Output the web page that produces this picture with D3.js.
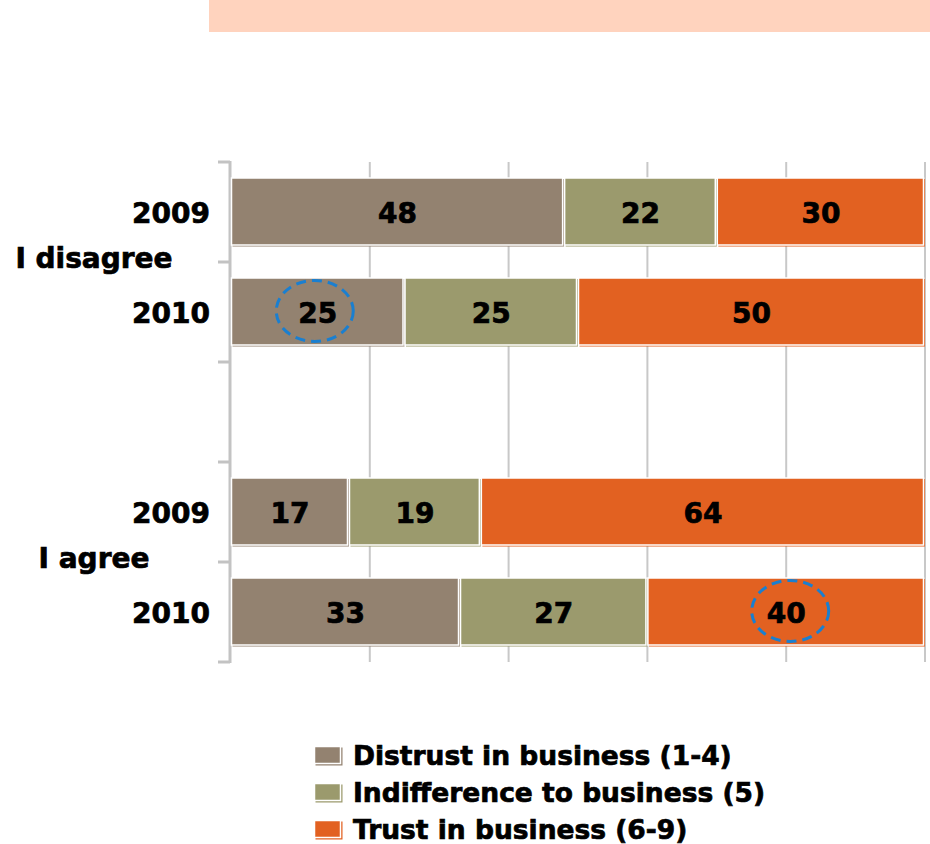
<!DOCTYPE html>
<html>
<head>
<meta charset="utf-8">
<script src="https://cdn.jsdelivr.net/npm/d3@7"></script>
<style>
  html, body { margin: 0; padding: 0; background: #fff; }
  svg { display: block; }
  text { font-family: "DejaVu Sans", Verdana, sans-serif; font-weight: bold; fill: #000; stroke: #000; stroke-width: 0.7px; }
</style>
</head>
<body>
<svg id="chart" width="930" height="844"></svg>
<script>
// Survey answers split into three trust levels (percent of respondents)
const groups = ["I disagree", "I agree"];
const years = ["2009", "2010"];
const series = ["Distrust in business (1-4)", "Indifference to business (5)", "Trust in business (6-9)"];
const colors = ["#938270", "#9b9a6d", "#e26121"];

const disagreeValues = [[48, 22, 30], [25, 25, 50]];
const agreeValues = [[17, 19, 64], [33, 27, 40]];

// Circled values: [group, year, series]
const highlights = [["I disagree", "2010", 0], ["I agree", "2010", 2]];

const xTicks = [0, 20, 40, 60, 80, 100];

const rows = [];
groups.forEach((g, gi) => {
  const vals = gi === 0 ? disagreeValues : agreeValues;
  years.forEach((y, yi) => rows.push({ key: g + "|" + y, group: g, year: y, values: vals[yi] }));
  if (gi < groups.length - 1) rows.push({ key: "gap" + gi, gap: true });
});

const svg = d3.select("#chart");

// Banner strip across the top
svg.append("rect").attr("x", 209).attr("y", 0).attr("width", 721).attr("height", 32).attr("fill", "#ffd3be");

const x = d3.scaleLinear().domain([0, 100]).range([231, 925]);
const y = d3.scaleBand().domain(rows.map(r => r.key)).range([162, 662]).paddingInner(0.31).paddingOuter(0.155);

// Vertical gridlines
svg.append("g").selectAll("line").data(xTicks.slice(1)).join("line")
  .attr("x1", d => x(d)).attr("x2", d => x(d))
  .attr("y1", 162).attr("y2", 662)
  .attr("stroke", "#c8c8c8").attr("stroke-width", 2);

// Category axis with ticks at slot boundaries
const boundaries = d3.range(rows.length + 1).map(i => 162 + i * y.step());
const axis = svg.append("g");
axis.append("line").attr("x1", 230).attr("x2", 230).attr("y1", 161).attr("y2", 663)
  .attr("stroke", "#c3c3c3").attr("stroke-width", 3);
axis.selectAll("line.tick").data(boundaries).join("line").attr("class", "tick")
  .attr("x1", 218).attr("x2", 230).attr("y1", d => d).attr("y2", d => d)
  .attr("stroke", "#c3c3c3").attr("stroke-width", 3);

// Stacked segments
const barRows = rows.filter(r => !r.gap);
const segs = [];
barRows.forEach(r => {
  let acc = 0;
  r.values.forEach((v, si) => {
    segs.push({ row: r, si, v, x0: acc, x1: acc + v });
    acc += v;
  });
});

const bars = svg.append("g");
// offset shadow beneath each segment
bars.selectAll("rect.shadow").data(segs).join("rect").attr("class", "shadow")
  .attr("x", d => x(d.x0) + 1.5).attr("y", d => y(d.row.key) + 1.5)
  .attr("width", d => x(d.x1) - x(d.x0) - 1.5).attr("height", y.bandwidth() - 1.5)
  .attr("fill", d => colors[d.si]);
bars.selectAll("rect.face").data(segs).join("rect").attr("class", "face")
  .attr("x", d => x(d.x0) + 0.5).attr("y", d => y(d.row.key) + 0.5)
  .attr("width", d => x(d.x1) - x(d.x0) - 2).attr("height", y.bandwidth() - 2)
  .attr("fill", d => colors[d.si]).attr("stroke", "#fff").attr("stroke-width", 1.5);

// Value labels
svg.append("g").selectAll("text").data(segs).join("text")
  .attr("x", d => (x(d.x0) + x(d.x1)) / 2)
  .attr("y", d => y(d.row.key) + y.bandwidth() / 2 + 10.5)
  .attr("text-anchor", "middle").attr("font-size", 28)
  .text(d => d.v);

// Dashed ellipses around highlighted values
svg.append("g").selectAll("ellipse").data(highlights).join("ellipse")
  .each(function (h) {
    const s = segs.find(d => d.row.group === h[0] && d.row.year === h[1] && d.si === h[2]);
    d3.select(this)
      .attr("cx", (x(s.x0) + x(s.x1)) / 2 + (h[2] === 0 ? -3 : 4))
      .attr("cy", y(s.row.key) + y.bandwidth() / 2 - 1)
      .attr("rx", 38.5).attr("ry", 30.5);
  })
  .attr("fill", "none").attr("stroke", "#1a7fd0").attr("stroke-width", 3)
  .attr("stroke-dasharray", "10 6");

// Year labels
svg.append("g").selectAll("text").data(barRows).join("text")
  .attr("x", 210).attr("y", d => y(d.key) + y.bandwidth() / 2 + 11)
  .attr("text-anchor", "end").attr("font-size", 28)
  .text(d => d.year);

// Group labels, centred between their two bars
svg.append("g").selectAll("text").data(groups).join("text")
  .attr("x", 94)
  .attr("y", g => {
    const ks = years.map(yr => y(g + "|" + yr) + y.bandwidth() / 2);
    return d3.mean(ks) + 6;
  })
  .attr("text-anchor", "middle").attr("font-size", 28)
  .text(g => g);

// Legend
const legend = svg.append("g").selectAll("g").data(series).join("g")
  .attr("transform", (d, i) => `translate(314, ${746 + i * 37})`);
legend.append("rect").attr("x", 1.5).attr("y", 1.5).attr("width", 27).attr("height", 18)
  .attr("fill", (d, i) => colors[i]);
legend.append("rect").attr("x", 0.5).attr("y", 0.5).attr("width", 26).attr("height", 17)
  .attr("fill", (d, i) => colors[i]).attr("stroke", "#fff").attr("stroke-width", 1.5);
legend.append("text").attr("x", 39).attr("y", 19).attr("font-size", 26.5).text(d => d);
</script>
</body>
</html>
